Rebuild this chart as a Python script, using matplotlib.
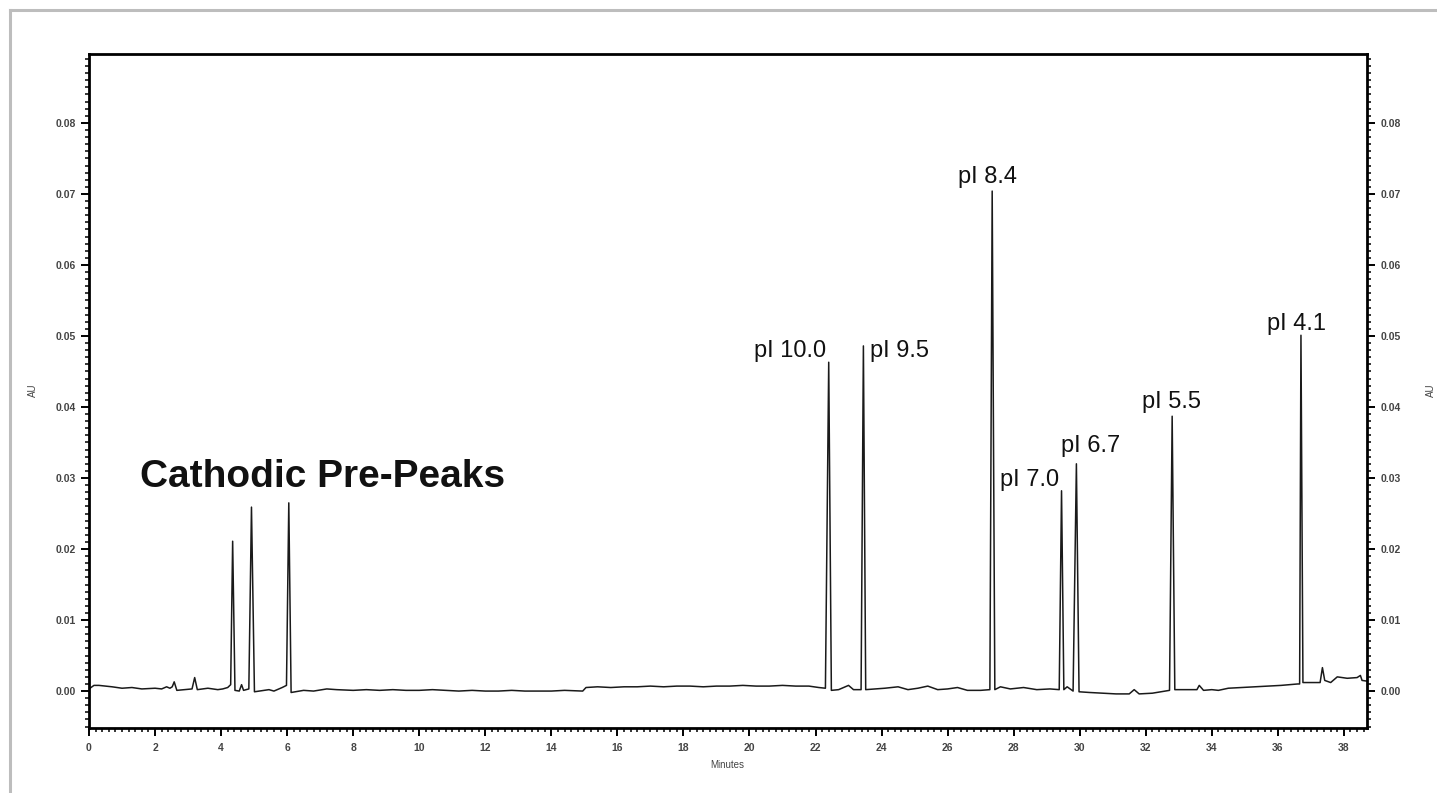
import matplotlib
matplotlib.use("Agg")
import matplotlib.pyplot as plt
from matplotlib.ticker import MultipleLocator, FormatStrFormatter
from matplotlib.lines import Line2D

# ---- data (time in minutes, absorbance in AU) ----
trace_time = [
    0.00, 0.15, 0.30, 0.50, 0.70, 1.00, 1.30, 1.60, 2.00, 2.20, 2.35, 2.45, 2.52, 2.58, 2.66,
    2.90, 3.12, 3.20, 3.28, 3.45, 3.60, 3.90, 4.05, 4.20, 4.29, 4.35, 4.42, 4.55, 4.62, 4.68,
    4.84, 4.92, 5.01, 5.30, 5.45, 5.60, 5.70, 5.85, 5.98, 6.05, 6.12, 6.50, 6.80, 7.20, 7.50,
    8.00, 8.40, 8.80, 9.20, 9.60, 10.0, 10.4, 10.8, 11.2, 11.6, 12.0, 12.4, 12.8, 13.2, 13.6,
    14.0, 14.4, 14.95, 15.05, 15.4, 15.8, 16.2, 16.6, 17.0, 17.4, 17.8, 18.2, 18.6, 19.0,
    19.4, 19.8, 20.2, 20.6, 21.0, 21.4, 21.8, 22.10, 22.30, 22.40, 22.48, 22.70, 23.00, 23.15,
    23.38, 23.45, 23.52, 23.80, 24.10, 24.50, 24.80, 25.10, 25.40, 25.70, 26.00, 26.30,
    26.60, 27.00, 27.28, 27.35, 27.43, 27.60, 27.90, 28.30, 28.70, 29.10, 29.38, 29.45,
    29.52, 29.62, 29.80, 29.90, 29.98, 30.30, 30.70, 31.10, 31.50, 31.65, 31.80, 32.20,
    32.72, 32.80, 32.88, 33.20, 33.55, 33.62, 33.75, 34.00, 34.20, 34.50, 34.90, 35.30, 35.70,
    36.10, 36.60, 36.66, 36.70, 36.76, 37.00, 37.28, 37.35, 37.42, 37.60, 37.80, 38.10,
    38.40, 38.50, 38.55, 38.70,
]
trace_au = [
    0.0003, 0.0008, 0.0008, 0.0007, 0.0006, 0.0004, 0.0005, 0.0003, 0.0004, 0.0003, 0.0006, 0.0004, 0.0006, 0.0013, 0.0001,
    0.0002, 0.0003, 0.0019, 0.0002, 0.0003, 0.0004, 0.0002, 0.0003, 0.0005, 0.0009, 0.0211, 0.0001, 0.0000, 0.0009, 0.0001,
    0.0003, 0.0259, -0.0001, 0.0001, 0.0002, 0.0000, 0.0002, 0.0005, 0.0008, 0.0265, -0.0002, 0.0001, 0.0000, 0.0003, 0.0002,
    0.0001, 0.0002, 0.0001, 0.0002, 0.0001, 0.0001, 0.0002, 0.0001, 0.0000, 0.0001, 0.0000, 0.0000, 0.0001, 0.0000, 0.0000,
    0.0000, 0.0001, 0.0000, 0.0005, 0.0006, 0.0005, 0.0006, 0.0006, 0.0007, 0.0006, 0.0007, 0.0007, 0.0006, 0.0007,
    0.0007, 0.0008, 0.0007, 0.0007, 0.0008, 0.0007, 0.0007, 0.0005, 0.0004, 0.0463, 0.0001, 0.0002, 0.0008, 0.0002,
    0.0002, 0.0486, 0.0002, 0.0003, 0.0004, 0.0006, 0.0002, 0.0004, 0.0007, 0.0002, 0.0003, 0.0005,
    0.0001, 0.0001, 0.0002, 0.0704, 0.0002, 0.0006, 0.0003, 0.0005, 0.0002, 0.0003, 0.0002, 0.0282,
    0.0002, 0.0006, 0.0000, 0.0320, -0.0001, -0.0002, -0.0003, -0.0004, -0.0004, 0.0002, -0.0004, -0.0003,
    0.0001, 0.0387, 0.0002, 0.0002, 0.0002, 0.0008, 0.0001, 0.0002, 0.0001, 0.0004, 0.0005, 0.0006, 0.0007,
    0.0008, 0.0010, 0.0010, 0.0501, 0.0012, 0.0012, 0.0012, 0.0033, 0.0015, 0.0012, 0.0020, 0.0018,
    0.0019, 0.0022, 0.0015, 0.0014,
]

peak_labels = ["pI 10.0", "pI 9.5", "pI 8.4", "pI 7.0", "pI 6.7", "pI 5.5", "pI 4.1"]
group_label = "Cathodic Pre-Peaks"
x_label = "Minutes"
y_label = "AU"

# ---- figure ----
W, H = 1437, 793
fig = plt.figure(figsize=(W / 100, H / 100), dpi=100)
fig.patch.set_facecolor("white")

# outer grey frame (top and left edges)
frame_kw = dict(color="#bdbdbd", lw=2.2, transform=fig.transFigure)
fig.add_artist(Line2D([10 / W, 1.0], [1 - 10 / H, 1 - 10 / H], **frame_kw))
fig.add_artist(Line2D([10 / W, 10 / W], [0.0, 1 - 10 / H], **frame_kw))

ax = fig.add_axes([89 / W, 65 / H, (1367 - 89) / W, (728 - 54) / H])
ax.plot(trace_time, trace_au, color="#1a1a1a", lw=1.1)

ax.set_xlim(0, 38.7)
ax.set_ylim(-0.0052, 0.0897)

for s in ax.spines.values():
    s.set_linewidth(2.0)
    s.set_color("black")

ax.xaxis.set_major_locator(MultipleLocator(2))
ax.xaxis.set_minor_locator(MultipleLocator(0.2))
ax.yaxis.set_major_locator(MultipleLocator(0.01))
ax.yaxis.set_minor_locator(MultipleLocator(0.001))
ax.yaxis.set_major_formatter(FormatStrFormatter("%.2f"))
ax.xaxis.set_major_formatter(FormatStrFormatter("%d"))
ax.tick_params(axis="both", which="major", direction="out", length=6, width=1.4,
               colors="black", labelcolor="#444444", labelsize=7.5)
ax.tick_params(axis="both", which="minor", direction="out", length=3, width=1.1, colors="black")
ax.tick_params(axis="y", which="both", left=True, right=True, labelleft=True, labelright=True)
ax.tick_params(axis="x", which="both", top=False, pad=5)
for t in ax.xaxis.get_major_ticks():
    t.label1.set_fontfamily("Liberation Sans")
    t.label1.set_fontweight("bold")
for t in ax.yaxis.get_major_ticks():
    for lab in (t.label1, t.label2):
        lab.set_fontfamily("Liberation Sans")
        lab.set_fontweight("bold")
        lab.set_color("#444444")
        lab.set_fontsize(7.5)

# axis titles
fig.text(727 / W, 1 - 765 / H, x_label, ha="center", va="center",
         fontsize=7, color="#444444", family="Liberation Sans")
fig.text(33 / W, 1 - 390 / H, y_label, ha="center", va="center", rotation=90,
         fontsize=7, color="#444444", family="Liberation Sans")
fig.text(1431 / W, 1 - 390 / H, y_label, ha="center", va="center", rotation=90,
         fontsize=7, color="#444444", family="Liberation Sans")

# peak annotations
lab_font = dict(family="Liberation Sans", fontsize=17, color="#111111", ha="center", va="center")
ax.text(21.24, 0.0479, peak_labels[0], **lab_font)
ax.text(24.55, 0.0479, peak_labels[1], **lab_font)
ax.text(27.20, 0.0724, peak_labels[2], **lab_font)
ax.text(28.48, 0.0297, peak_labels[3], **lab_font)
ax.text(30.33, 0.0345, peak_labels[4], **lab_font)
ax.text(32.79, 0.0407, peak_labels[5], **lab_font)
ax.text(36.58, 0.0517, peak_labels[6], **lab_font)
ax.text(7.06, 0.0301, group_label, family="Liberation Sans", fontsize=28,
        fontweight="bold", color="#111111", ha="center", va="center")

fig.savefig("out.png", dpi=100)
